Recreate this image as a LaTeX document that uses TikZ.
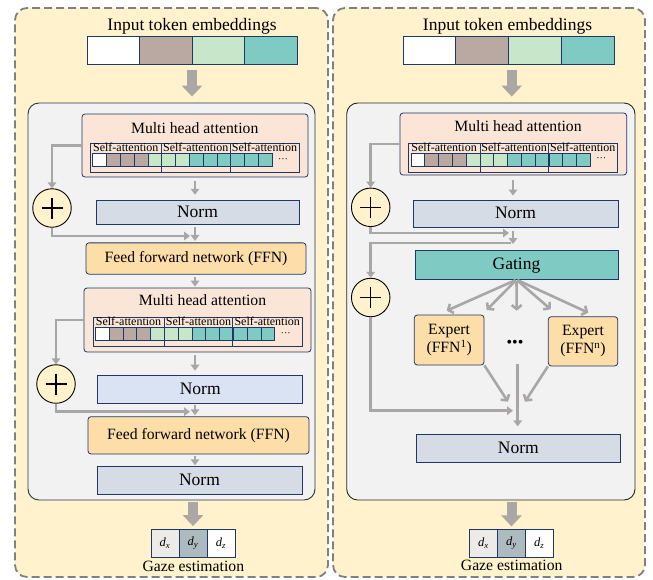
\documentclass[tikz,border=0pt]{standalone}
\usepackage{fontspec}
\setmainfont{Liberation Serif}
\usetikzlibrary{arrows.meta,calc}

\definecolor{panelbg}{HTML}{FFF2CC}
\definecolor{dashgray}{HTML}{808080}
\definecolor{innerbg}{HTML}{F2F2F2}
\definecolor{innerline}{HTML}{24344D}
\definecolor{navy}{HTML}{1F3864}
\definecolor{mhabg}{HTML}{FBE5D6}
\definecolor{normbg}{HTML}{D6DCE5}
\definecolor{normbgb}{HTML}{DAE3F3}
\definecolor{ffnbg}{HTML}{FDDEA8}
\definecolor{tokbrown}{HTML}{BAA9A2}
\definecolor{tokgreen}{HTML}{C8E6C9}
\definecolor{tokteal}{HTML}{7FCAC2}
\definecolor{gatebg}{HTML}{7FCBC4}
\definecolor{flowgray}{HTML}{A9A6A6}
\definecolor{biggray}{HTML}{ABA7A5}
\definecolor{dxbg}{HTML}{EDEBE8}
\definecolor{dybg}{HTML}{ADBAC0}
\definecolor{plusbg}{HTML}{FFF2CC}

\tikzset{
  outerpanel/.style={draw=dashgray, line width=1.8pt, dash pattern=on 8pt off 4pt,
    fill=panelbg, rounded corners=12pt, inner sep=0pt},
  innerpanel/.style={draw=#1, line width=0.9pt, fill=innerbg, rounded corners=11pt, inner sep=0pt},
  box/.style={draw=navy, line width=0.8pt, inner sep=0pt},
  rbox/.style={box, rounded corners=3pt},
  tokcell/.style={box, minimum width=#1, minimum height=28pt},
  cell/.style={draw=navy, line width=0.6pt, minimum width=13.8pt, minimum height=12.7pt,
    inner sep=0pt, anchor=north west},
  flow/.style={draw=flowgray, line width=2.6pt, -{Triangle[length=6pt,width=8.5pt]}},
  fan/.style={draw=flowgray, line width=2.6pt, -{Straight Barb[length=4pt,width=10pt]}},
  bigarrow/.style={draw=biggray, line width=10pt, -{Triangle[length=11pt,width=20pt]}},
  plus/.style={circle, draw=black, line width=0.9pt, fill=plusbg, minimum size=38.5pt,
    inner sep=0pt, path picture={
      \draw[black, line width=1.1pt]
        ($(path picture bounding box.center)+(-10.5,0)$) -- +(21,0)
        ($(path picture bounding box.center)+(0,-10.5)$) -- +(0,21);}},
  dbox/.style={box, minimum width=28pt, minimum height=28pt,
    font=\fontsize{12.5}{14}\selectfont},
  bigfont/.style={font=\fontsize{17.5}{20}\selectfont},
  midfont/.style={font=\fontsize{15.7}{18}\selectfont},
  smallfont/.style={font=\fontsize{12}{13}\selectfont},
  bigtxt/.style={bigfont, text height=11.9pt, text depth=2.4pt},
  midtxt/.style={midfont, text height=10.7pt, text depth=2.4pt},
}

% attention strip: name, top-left x, top-left y
\newcommand\attgrid[3]{%
  \foreach \i/\c in {0/white,1/tokbrown,2/tokbrown,3/tokbrown,4/tokgreen,5/tokgreen,6/tokgreen,
                     7/tokteal,8/tokteal,9/tokteal,10/tokteal,11/tokteal,12/tokteal}
    \node[cell, fill=\c] (#1c\i) at (#2+2.3+13.8*\i, #3+10.3) {};
  \node[draw=navy, line width=0.6pt, minimum width=209pt, minimum height=29pt,
        inner sep=0pt, anchor=north west] (#1) at (#2,#3) {};
  \draw[navy, line width=0.6pt] ($(#1.north west)+(71.7,0)$) -- ($(#1.south west)+(71.7,0)$)
                                ($(#1.north west)+(140,0)$) -- ($(#1.south west)+(140,0)$);
  \node[smallfont, anchor=base] (#1h1) at ($(#1.north west)+(35.8,8.6)$) {Self-attention};
  \node[smallfont, anchor=base] (#1h2) at ($(#1.north west)+(105.8,8.6)$) {Self-attention};
  \node[smallfont, anchor=base] (#1h3) at ($(#1.north west)+(174.5,8.6)$) {Self-attention};
  \node[font=\fontsize{10}{10}\selectfont, anchor=base] (#1e) at ($(#1.north west)+(193,19)$) {···};
}

\begin{document}
\begin{tikzpicture}[x=1pt,y=-1pt]
\useasboundingbox (0,0) rectangle (653,579);

% ---------- outer dashed panels ----------
\node[outerpanel, minimum width=313pt, minimum height=569pt] (panL) at (171.5,292.5) {};
\node[outerpanel, minimum width=312pt, minimum height=569pt] (panR) at (489,292.5) {};

% =============== left: stacked transformer ===============
\node[bigfont, anchor=base] (titL) at (192,30) {Input token embeddings};
\node[tokcell=52.5pt, fill=white]    (tL1) at (113.25,50) {};
\node[tokcell=52.5pt, fill=tokbrown] (tL2) at (165.75,50) {};
\node[tokcell=52.5pt, fill=tokgreen] (tL3) at (218.25,50) {};
\node[tokcell=52.5pt, fill=tokteal]  (tL4) at (270.75,50) {};
\node[box, minimum width=210pt, minimum height=28pt] (tokL) at (192,50) {};

\node[innerpanel=innerline, minimum width=287pt, minimum height=397pt] (innL) at (171.5,301.5) {};
\draw[bigarrow, shorten <=6pt, shorten >=6pt] (tokL.south) -- (tokL.south |- innL.north);

\coordinate (axL) at (195,0);

% block 1
\node[rbox, fill=mhabg, minimum width=226pt, minimum height=63pt] (mhaL1) at (195,145.5) {};
\node[midfont, anchor=base] (mhaL1t) at (194.7,133.3) {Multi head attention};
\attgrid{gL1}{90}{143}
\node[box, fill=normbg, minimum width=203pt, minimum height=23.3pt, bigtxt] (normL1) at (197.5,212.3) {Norm};
\node[plus] (cL1) at (52,208) {};
\node[rbox, fill=ffnbg, minimum width=220pt, minimum height=31.3pt, midtxt] (ffnL1) at (196,258.5) {Feed forward network (FFN)};

% block 2
\node[rbox, fill=mhabg, minimum width=227pt, minimum height=64pt] (mhaL2) at (197.5,320) {};
\node[midfont, anchor=base] (mhaL2t) at (202.5,305.5) {Multi head attention};
\attgrid{gL2}{92.7}{317}
\node[box, fill=normbgb, minimum width=205pt, minimum height=27.5pt, bigtxt] (normL2) at (200.2,389.3) {Norm};
\node[plus] (cL2) at (56,384) {};
\node[rbox, fill=ffnbg, minimum width=221pt, minimum height=37.3pt, midtxt] (ffnL2) at (198.5,435.3) {Feed forward network (FFN)};
\node[box, fill=normbg, minimum width=205pt, minimum height=27.3pt, bigtxt] (normL3) at (199.5,480.3) {Norm};

% main path
\draw[flow, shorten <=4pt, shorten >=5.5pt] (mhaL1.south -| axL) -- (normL1.north -| axL);
\draw[flow, shorten <=3pt, shorten >=1.5pt] (normL1.south -| axL) -- (ffnL1.north -| axL);
\draw[flow, shorten <=2pt, shorten >=1pt] (ffnL1.south -| axL) -- (mhaL2.north -| axL);
\draw[flow, shorten <=3pt, shorten >=4.5pt] (mhaL2.south -| axL) -- (normL2.north -| axL);
\draw[flow, shorten <=2pt, shorten >=1pt] (normL2.south -| axL) -- (ffnL2.north -| axL);
\draw[flow, shorten <=1.5pt, shorten >=1pt] (ffnL2.south -| axL) -- (normL3.north -| axL);

% residual paths
\coordinate (mL1) at (190,236);
\coordinate (mL2) at (190,411.7);
\draw[flow] (mhaL1.west) -| (cL1.north);
\draw[flow] (cL1.south) |- (mL1);
\draw[flow] (mhaL2.west) -| (cL2.north);
\draw[flow] (cL2.south) |- (mL2);

% output
\node[dbox, fill=dxbg]  (dxL) at (165,543) {\textit{d}\textsubscript{\textit{x}}};
\node[dbox, fill=dybg]  (dyL) at (193,543) {\textit{d}\textsubscript{\textit{y}}};
\node[dbox, fill=white] (dzL) at (221,543) {\textit{d}\textsubscript{\textit{z}}};
\draw[bigarrow, shorten <=1.5pt, shorten >=2.5pt] (dyL.north |- innL.south) -- (dyL.north);
\node[midfont, anchor=base] (gzL) at (193.3,571.7) {Gaze estimation};

% =============== right: mixture of experts ===============
\node[bigfont, anchor=base] (titR) at (507.5,30) {Input token embeddings};
\node[tokcell=52.75pt, fill=white]    (tR1) at (429.4,50) {};
\node[tokcell=52.75pt, fill=tokbrown] (tR2) at (482.1,50) {};
\node[tokcell=52.75pt, fill=tokgreen] (tR3) at (534.9,50) {};
\node[tokcell=52.75pt, fill=tokteal]  (tR4) at (587.6,50) {};
\node[box, minimum width=211pt, minimum height=28pt] (tokR) at (508.5,50) {};

\node[innerpanel=black!85, minimum width=288.3pt, minimum height=397pt] (innR) at (490.85,301.5) {};
\draw[bigarrow, shorten <=6pt, shorten >=6pt] (tokR.south -| 511.7,0) -- (innR.north -| 511.7,0);

\coordinate (axR) at (513,0);

\node[rbox, fill=mhabg, minimum width=226.7pt, minimum height=62pt] (mhaR) at (513.35,144) {};
\node[midfont, anchor=base] (mhaRt) at (518,131.7) {Multi head attention};
\attgrid{gR}{408.3}{142.7}
\node[box, fill=normbg, minimum width=205pt, minimum height=27.7pt, bigtxt] (normR1) at (515.5,213.85) {Norm};
\node[plus] (cR1) at (370.7,207.3) {};
\node[box, fill=gatebg, minimum width=203pt, minimum height=29.3pt, bigtxt] (gate) at (516.5,264.65) {Gating};
\node[plus] (cR2) at (370.7,297.5) {};

\node[rbox, fill=ffnbg, minimum width=69.7pt, minimum height=50pt, midfont, align=center] (exp1) at (449.15,340) {Expert\\(FFN\textsuperscript{1})};
\node[rbox, fill=ffnbg, minimum width=69.4pt, minimum height=49.3pt, midfont, align=center] (expn) at (583,341.3) {Expert\\(FFN\textsuperscript{n})};
\node[font=\fontsize{16}{16}\selectfont, anchor=base] (dots) at (515,347) {•••};

\node[box, fill=normbg, minimum width=204.7pt, minimum height=28.4pt, bigtxt] (normR2) at (518.35,448.5) {Norm};

% main path
\coordinate (mR1) at (509,233);
\coordinate (sR) at (513,244);
\draw[flow, shorten <=5pt, shorten >=4pt] (mhaR.south -| axR) -- (normR1.north -| axR);
\draw[flow] (mhaR.west) -| (cR1.north);
\draw[flow] (cR1.south) |- (mR1);
\draw[flow, shorten <=2.5pt] (normR1.south -| axR) -- (sR);
\draw[flow] ($(sR)+(-2,-1)$) -| (cR2.north);

% gating fan-out
\coordinate (f2) at (486.7,310);
\coordinate (f3) at (516.7,310.7);
\coordinate (f4) at (550.7,309.3);
\coordinate (f5) at (588.3,312.7);
\coordinate (f1) at (446.7,310.7);
\draw[fan, shorten <=1pt] (gate.south) -- (f1);
\draw[fan, shorten <=1pt] (gate.south) -- (f2);
\draw[fan, shorten <=1pt] (gate.south) -- (f3);
\draw[fan, shorten <=1pt] (gate.south) -- (f4);
\draw[fan, shorten <=1pt] (gate.south) -- (f5);

% combine
\coordinate (k1) at (508,401.7);
\coordinate (k2) at (525,401.7);
\coordinate (mtop) at (517.7,364);
\coordinate (mR2) at (513,410.7);
\draw[fan] (exp1.south east) -- (k1);
\draw[fan] (expn.south west) -- (k2);
\draw[flow, shorten >=7.5pt] (mtop) -- (normR2.north -| mtop);
\draw[flow] (cR2.south) |- (mR2);

% output
\node[dbox, fill=dxbg]  (dxR) at (483.5,543.3) {\textit{d}\textsubscript{\textit{x}}};
\node[dbox, fill=dybg]  (dyR) at (511.5,543.3) {\textit{d}\textsubscript{\textit{y}}};
\node[dbox, fill=white] (dzR) at (539.3,543.3) {\textit{d}\textsubscript{\textit{z}}};
\draw[bigarrow, shorten <=1.5pt, shorten >=2.5pt] (dyR.north |- innR.south) -- (dyR.north);
\node[midfont, anchor=base] (gzR) at (511.7,570.7) {Gaze estimation};
\end{tikzpicture}
\end{document}
